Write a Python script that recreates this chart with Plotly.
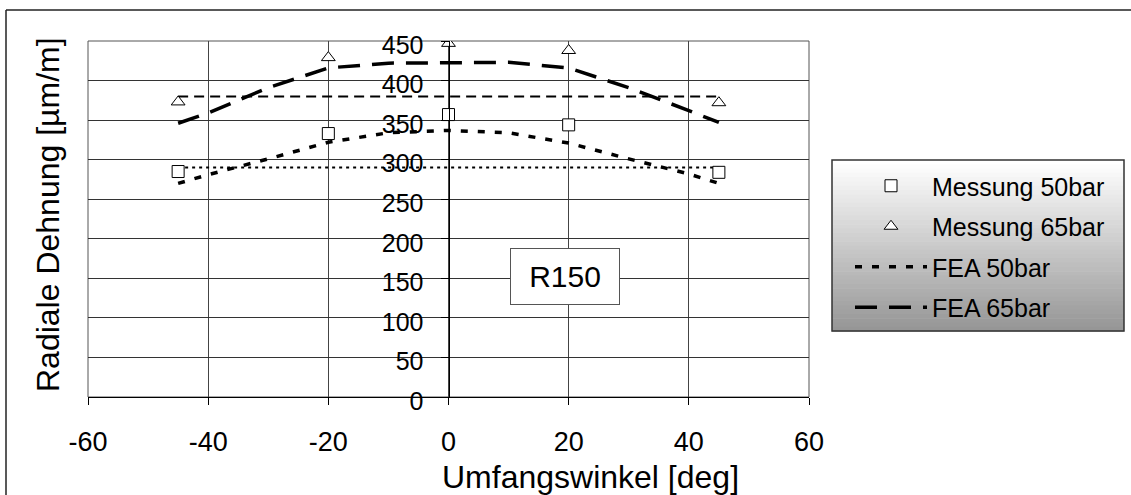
import plotly.graph_objects as go

# ---------------- data ----------------
meas_x = [-45, -20, 0, 20, 45]
meas_50 = [285, 333, 357, 344, 284]
meas_65 = [373, 429, 447, 438, 372]

fea_x = [-45, -40, -30, -20, -10, 0, 10, 20, 30, 40, 45]
fea_50 = [270, 281, 301, 322, 334, 337, 334, 321, 301, 282, 270]
fea_65 = [346, 359, 391, 416, 422, 423, 423, 416, 391, 362, 347]

ref_x = [-45, 45]
ref_50 = [290, 290]
ref_65 = [380, 380]

x_ticks = [-60, -40, -20, 0, 20, 40, 60]
y_ticks = [0, 50, 100, 150, 200, 250, 300, 350, 400, 450]

# ---------------- layout geometry ----------------
W, H = 1131, 495
ML, MR, MT, MB = 88, 322, 41, 98
PW = W - ML - MR
PH = H - MT - MB


def pxx(px):
    return (px - ML) / PW


def pxy(py):
    return (H - MB - py) / PH


FONT = "Liberation Sans, Arial, sans-serif"

fig = go.Figure()

# straight reference lines (no legend)
fig.add_trace(go.Scatter(x=ref_x, y=ref_50, mode="lines", showlegend=False,
                         line=dict(color="black", width=2, dash="3px,4px")))
fig.add_trace(go.Scatter(x=ref_x, y=ref_65, mode="lines", showlegend=False,
                         line=dict(color="black", width=2, dash="10px,6px")))

# FEA curves
fig.add_trace(go.Scatter(x=fea_x, y=fea_50, mode="lines", name="FEA 50bar",
                         legendgroup="c", legendrank=3,
                         line=dict(color="black", width=3.5, dash="7px,10px")))
fig.add_trace(go.Scatter(x=fea_x, y=fea_65, mode="lines", name="FEA 65bar",
                         legendgroup="d", legendrank=4,
                         line=dict(color="black", width=3.5, dash="22px,12px")))

# measurements
fig.add_trace(go.Scatter(x=meas_x, y=meas_50, mode="markers", name="Messung 50bar",
                         legendgroup="a", legendrank=1,
                         marker=dict(symbol="square", size=12, color="white",
                                     line=dict(color="black", width=1))))
fig.add_trace(go.Scatter(x=meas_x, y=meas_65, mode="markers", name="Messung 65bar",
                         legendgroup="b", legendrank=2,
                         marker=dict(symbol="triangle-up", size=12, color="white",
                                     line=dict(color="black", width=1))))

shapes = []
# outer frame: top and left edges only (others are outside the picture)
shapes.append(dict(type="line", xref="paper", yref="paper",
                   x0=pxx(6), x1=pxx(W), y0=pxy(10), y1=pxy(10),
                   line=dict(color="#222", width=1.5), layer="below"))
shapes.append(dict(type="line", xref="paper", yref="paper",
                   x0=pxx(6), x1=pxx(6), y0=pxy(10), y1=pxy(H),
                   line=dict(color="#222", width=1.5), layer="below"))
# plot area frame
shapes.append(dict(type="rect", xref="x domain", yref="y domain",
                   x0=0, x1=1, y0=0, y1=1,
                   line=dict(color="#555", width=1), layer="below"))

# legend gradient box
LX0, LX1, LY0, LY1 = 832, 1124, 160, 331
n = 40
for i in range(n):
    t = i / (n - 1)
    g = int(round(255 - t * (255 - 150)))
    y0 = LY0 + (LY1 - LY0) * i / n
    y1 = LY0 + (LY1 - LY0) * (i + 1) / n
    shapes.append(dict(type="rect", xref="paper", yref="paper",
                       x0=pxx(LX0), x1=pxx(LX1), y0=pxy(y1 + 0.6), y1=pxy(y0),
                       line=dict(width=0), fillcolor=f"rgb({g},{g},{g})",
                       layer="above"))
shapes.append(dict(type="rect", xref="paper", yref="paper",
                   x0=pxx(LX0), x1=pxx(LX1), y0=pxy(LY1), y1=pxy(LY0),
                   line=dict(color="#333", width=1.5), fillcolor="rgba(0,0,0,0)",
                   layer="above"))

annotations = [
    dict(text="R150", x=19.4, y=151.7, xref="x", yref="y", showarrow=False,
         font=dict(family=FONT, size=30, color="black"),
         bgcolor="white", bordercolor="#555", borderwidth=1, borderpad=1,
         width=106, height=53, xanchor="center", yanchor="middle"),
    dict(text="Umfangswinkel [deg]", x=pxx(590), y=pxy(477), xref="paper", yref="paper",
         showarrow=False, font=dict(family=FONT, size=32, color="black"),
         xanchor="center", yanchor="middle"),
    dict(text="Radiale Dehnung [µm/m]", x=pxx(48), y=pxy(215), xref="paper", yref="paper",
         showarrow=False, textangle=-90, font=dict(family=FONT, size=32, color="black"),
         xanchor="center", yanchor="middle"),
]

fig.update_layout(
    width=W, height=H,
    margin=dict(l=ML, r=MR, t=MT, b=MB),
    paper_bgcolor="white", plot_bgcolor="white",
    font=dict(family=FONT, color="black"),
    shapes=shapes,
    annotations=annotations,
    showlegend=True,
    legend=dict(x=pxx(850), y=pxy(163), xanchor="left", yanchor="top",
                bgcolor="rgba(0,0,0,0)", borderwidth=0,
                font=dict(family=FONT, size=25, color="black"),
                itemwidth=72, tracegroupgap=5, traceorder="grouped"),
    xaxis=dict(range=[-60, 60], tickvals=x_ticks, ticktext=[str(v) for v in x_ticks],
               showgrid=True, gridcolor="#444", gridwidth=1,
               zeroline=False, showline=True, linecolor="black", linewidth=1,
               ticks="outside", ticklen=7, tickcolor="black",
               tickfont=dict(family=FONT, size=27, color="black"),
               ticklabelstandoff=14, fixedrange=True),
    yaxis=dict(range=[0, 450], tickvals=y_ticks, ticktext=[str(v) for v in y_ticks],
               anchor="free", position=0.5, side="left",
               showgrid=True, gridcolor="#333", gridwidth=1,
               zeroline=False, showline=True, linecolor="black", linewidth=1,
               ticks="outside", ticklen=8, tickcolor="black",
               tickfont=dict(family=FONT, size=25, color="black"),
               ticklabelstandoff=12, ticklabelshift=4, fixedrange=True),
)

fig.write_html("out.html")
